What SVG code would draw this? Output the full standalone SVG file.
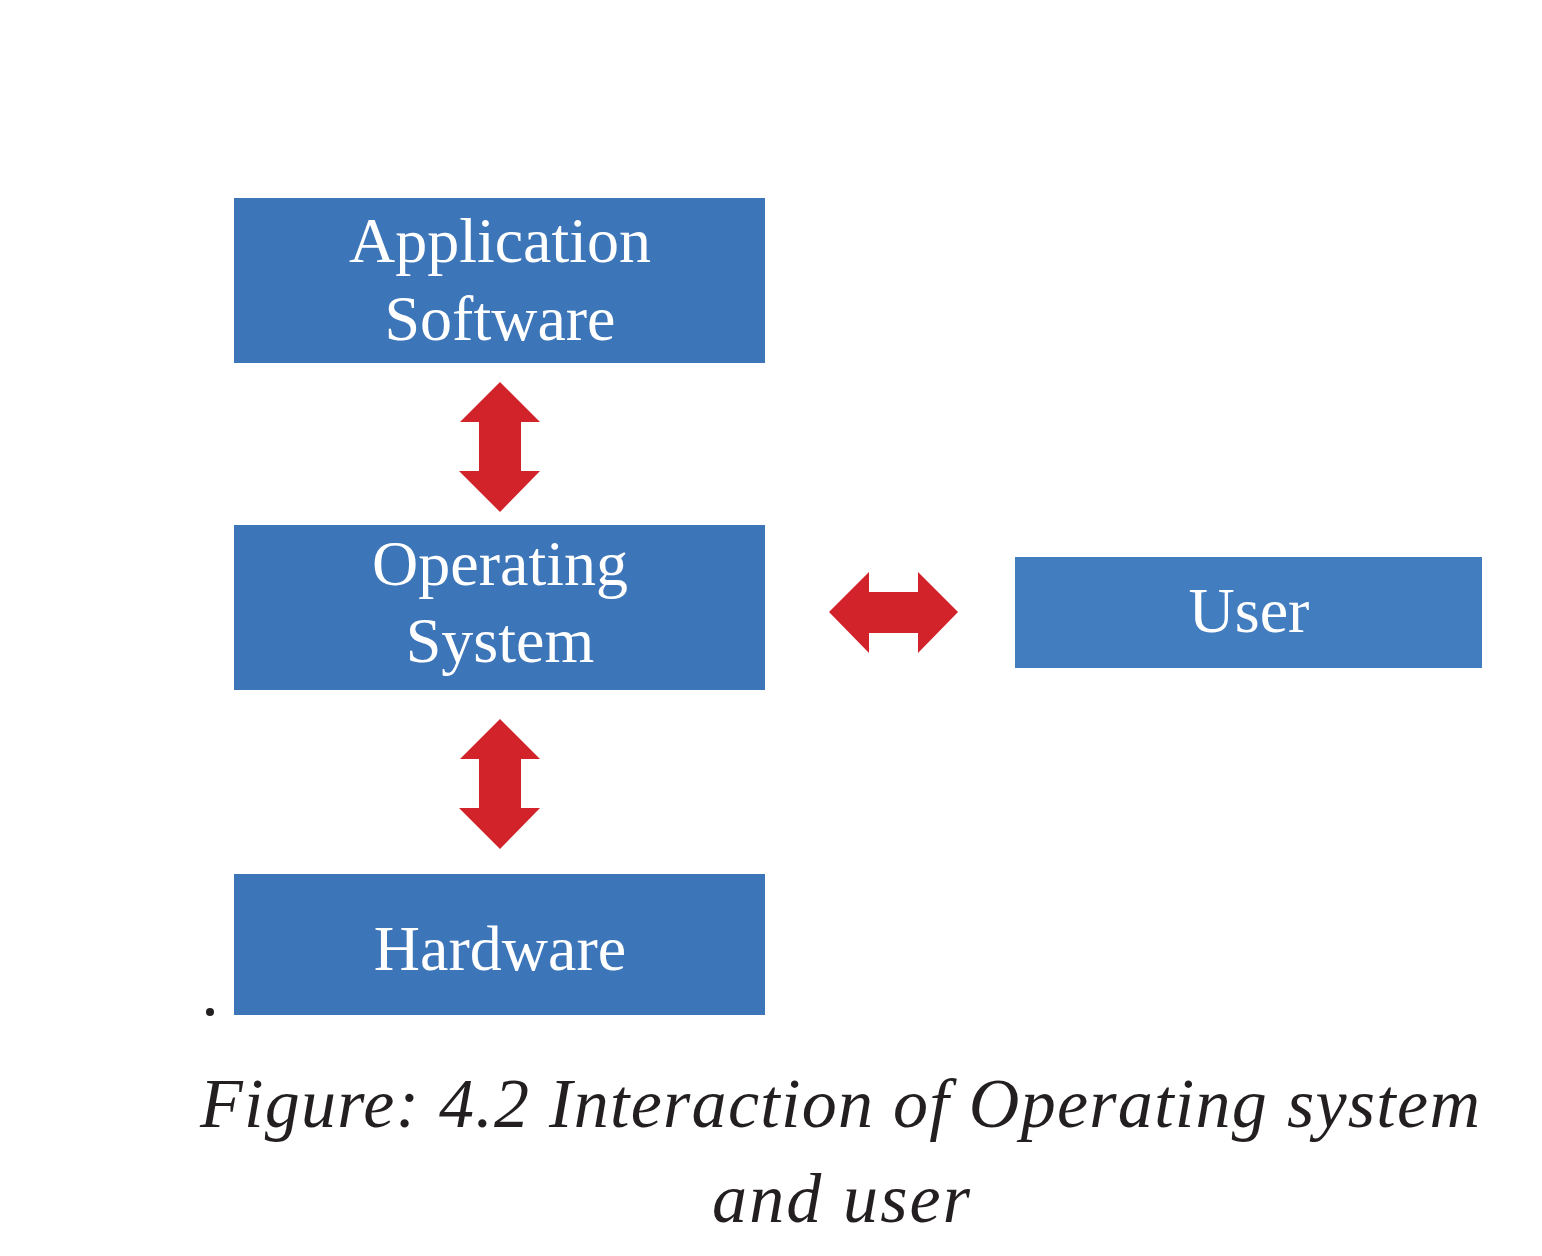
<svg xmlns="http://www.w3.org/2000/svg" width="1542" height="1256" viewBox="0 0 1542 1256">
<style>
.box{fill:#3D75B9}
.lbl{font-family:"Liberation Serif",serif;font-size:64px;fill:#fff;text-anchor:middle}
.arr{fill:#D2232A}
.cap{font-family:"Liberation Serif",serif;font-style:italic;font-size:70px;fill:#231f20;text-anchor:middle}
</style>
<rect width="1542" height="1256" fill="#fff"/>
<g id="app">
<rect class="box" x="234" y="198" width="531" height="165"/>
<text class="lbl" x="500" y="262">Application</text>
<text class="lbl" x="500" y="340">Software</text>
</g>
<g id="os">
<rect class="box" x="234" y="525" width="531" height="165"/>
<text class="lbl" x="500" y="585">Operating</text>
<text class="lbl" x="500" y="662">System</text>
</g>
<g id="hw">
<rect class="box" x="234" y="874" width="531" height="141"/>
<text class="lbl" x="500" y="970">Hardware</text>
</g>
<g id="user">
<rect x="1015" y="557" width="467" height="111" fill="#427EBF"/>
<text class="lbl" x="1249" y="632">User</text>
</g>
<g id="connectors">
<path class="arr" d="M500 382 L540 422 L521 422 L521 471 L540 471 L500 512 L459 471 L479 471 L479 422 L460 422 Z"/>
<path class="arr" d="M500 719 L540 759 L521 759 L521 808 L540 808 L500 849 L459 808 L479 808 L479 759 L460 759 Z"/>
<path class="arr" d="M829 612 L869 572 L869 592 L918 592 L918 572 L958 612 L918 653 L918 633 L869 633 L869 653 Z"/>
</g>
<circle cx="210" cy="1012" r="4" fill="#231f20"/>
<g id="caption">
<text class="cap" x="840" y="1127" textLength="1280" lengthAdjust="spacing">Figure: 4.2 Interaction of Operating system</text>
<text class="cap" x="841" y="1222" textLength="258" lengthAdjust="spacing">and user</text>
</g>
</svg>
